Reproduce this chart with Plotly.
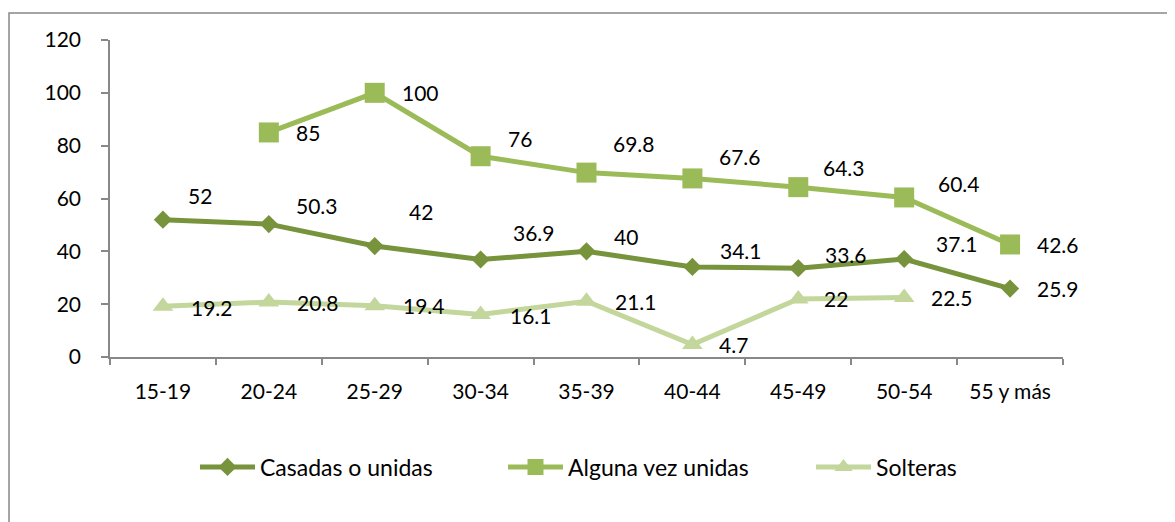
import plotly.graph_objects as go

categories = ["15-19", "20-24", "25-29", "30-34", "35-39", "40-44", "45-49", "50-54", "55 y más"]
casadas = [52, 50.3, 42, 36.9, 40, 34.1, 33.6, 37.1, 25.9]
alguna = [None, 85, 100, 76, 69.8, 67.6, 64.3, 60.4, 42.6]
solteras = [19.2, 20.8, 19.4, 16.1, 21.1, 4.7, 22, 22.5, None]
y_ticks = [0, 20, 40, 60, 80, 100, 120]

# label offsets in screen pixels (dx right, dy down)
off_casadas = [(37, -24), (48, -19), (46, -35), (53, -27), (39, -15), (49, -16), (48, -14), (53, -15), (48, 0)]
off_alguna = [None, (39, 0), (46, 0), (39, -18), (47, -29), (48, -22), (46, -20), (55, -14), (48, 0)]
off_solteras = [(49, 1), (49, 0), (49, 0), (50, 1), (49, 0), (41, 0), (38, 0), (48, 0), None]

FONT = "Lato"
FS = 21

series = [
    ("Casadas o unidas", casadas, "#77933C", "diamond", 14, off_casadas),
    ("Alguna vez unidas", alguna, "#9BBB59", "square", 20, off_alguna),
    ("Solteras", solteras, "#C3D69B", "triangle-up", 18, off_solteras),
]

# page body has an 8px margin; figure is sized to fit the window
W, H = 1175 - 8, 522 - 8

fig = go.Figure()
annotations = []
for name, vals, color, sym, msize, offs in series:
    fig.add_trace(go.Scatter(
        x=categories, y=vals, name=name, mode="lines+markers",
        line=dict(color=color, width=5),
        marker=dict(symbol=sym, size=msize, color=color),
        connectgaps=False,
    ))
    for c, v, o in zip(categories, vals, offs):
        if v is None or o is None:
            continue
        annotations.append(dict(
            x=c, y=v, xref="x", yref="y", text=f"{v:g}", showarrow=False,
            xanchor="center", yanchor="middle", xshift=o[0], yshift=-o[1],
            font=dict(family=FONT, size=FS, color="black"),
        ))

fig.update_layout(
    width=W, height=H,
    margin=dict(l=102, r=112, t=32, b=165),
    paper_bgcolor="white", plot_bgcolor="white",
    font=dict(family=FONT, size=FS, color="black"),
    showlegend=True,
    legend=dict(
        orientation="h", xref="container", yref="container",
        x=(195 - 8) / W, xanchor="left", y=1 - (467 - 8) / H, yanchor="middle",
        entrywidth=238, entrywidthmode="pixels", itemwidth=55,
        font=dict(family=FONT, size=23, color="black"),
        itemsizing="trace",
    ),
    annotations=annotations,
    xaxis=dict(
        type="category", range=[-0.5, 8.5],
        showline=True, linecolor="#888888", linewidth=1.5,
        ticks="outside", ticklen=6, tickcolor="#888888", tickwidth=1.5,
        tickson="boundaries", showgrid=False, zeroline=False,
        ticklabelstandoff=15,
        tickfont=dict(family=FONT, size=FS, color="black"),
    ),
    yaxis=dict(
        range=[0, 120], tickvals=y_ticks,
        showline=True, linecolor="#888888", linewidth=1.5,
        ticks="outside", ticklen=7, tickcolor="#888888", tickwidth=1.5,
        showgrid=False, zeroline=False,
        ticklabelstandoff=16,
        tickfont=dict(family=FONT, size=FS, color="black"),
    ),
)

# outer chart frame
pw, ph = W - 102 - 112, H - 32 - 165
fig.add_shape(type="rect", xref="paper", yref="paper",
              x0=(1 - 102) / pw, x1=(W + 20 - 102) / pw,
              y0=(ph + 32 - (H + 20)) / ph, y1=(ph + 32 - 5) / ph,
              line=dict(color="#888888", width=1.5), fillcolor="rgba(0,0,0,0)", layer="below")

fig.write_html("out.html")
